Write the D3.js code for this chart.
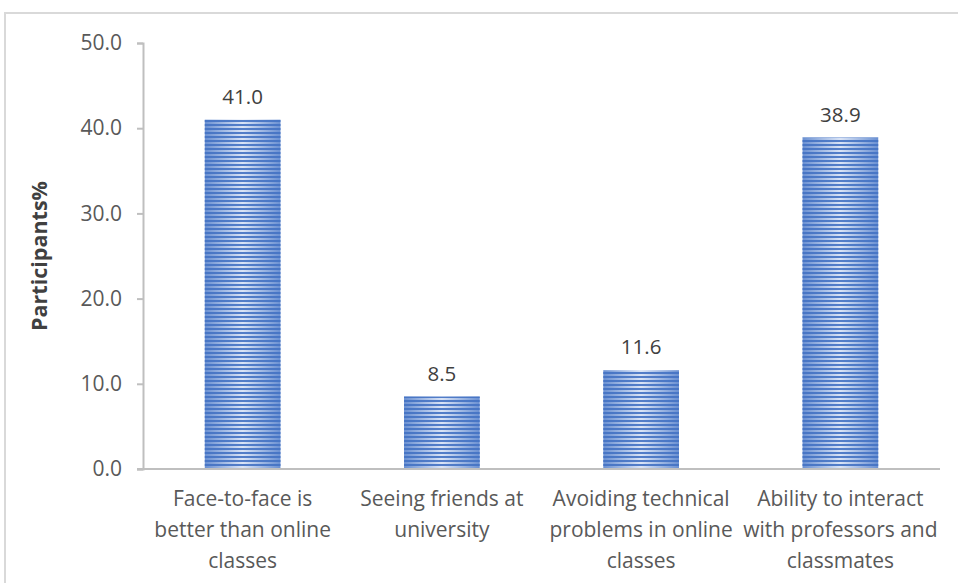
<!DOCTYPE html>
<html>
<head>
<meta charset="utf-8">
<script src="https://cdn.jsdelivr.net/npm/d3@7"></script>
<style>
  body { margin: 0; background: #fff; }
  svg { display: block; font-family: "Open Sans", "Liberation Sans", sans-serif; }
</style>
</head>
<body>
<svg id="svg"></svg>
<script>
const width = 958;
const height = 583;

const margin = { top: 43, right: 18, bottom: 114, left: 143 };

// data
const categories = [
    "Face-to-face is better than online classes",
    "Seeing friends at university",
    "Avoiding technical problems in online classes",
    "Ability to interact with professors and classmates"
];
const categoryLines = [
    ["Face-to-face is", "better than online", "classes"],
    ["Seeing friends at", "university"],
    ["Avoiding technical", "problems in online", "classes"],
    ["Ability to interact", "with professors and", "classmates"]
];
const values = [41.0, 8.5, 11.6, 38.9];
const yTicks = [0, 10, 20, 30, 40, 50];

let svg = d3.select("#svg")
    .attr("width", width)
    .attr("height", height)
    .attr("viewBox", [0, 0, width, height]);

// chart border (left and top visible)
svg.append("rect")
    .attr("x", 5)
    .attr("y", 13)
    .attr("width", width + 10)
    .attr("height", height + 10)
    .attr("fill", "none")
    .attr("stroke", "#d9d9d9")
    .attr("stroke-width", 2);

let defs = svg.append("defs");

// horizontal gradient: darker at edges, light in the middle
let grad = defs.append("linearGradient")
    .attr("id", "barGrad")
    .attr("x1", "0%").attr("x2", "100%")
    .attr("y1", "0%").attr("y2", "0%");
grad.append("stop").attr("offset", "0%").attr("stop-color", "#6a90d2");
grad.append("stop").attr("offset", "50%").attr("stop-color", "#dae4f6");
grad.append("stop").attr("offset", "100%").attr("stop-color", "#6a90d2");

// horizontal stripes
let pat = defs.append("pattern")
    .attr("id", "stripes")
    .attr("patternUnits", "userSpaceOnUse")
    .attr("width", 8)
    .attr("height", 4);
pat.append("rect")
    .attr("width", 8)
    .attr("height", 2)
    .attr("fill", "#4472c4")
    .attr("opacity", 0.9);

let xScale = d3.scaleBand()
    .domain(categories)
    .range([margin.left, width - margin.right])
    .paddingInner(0.62)
    .paddingOuter(0.31);

let yScale = d3.scaleLinear()
    .domain([0, 50])
    .range([height - margin.bottom, margin.top]);

// bars
let bars = svg.append("g")
    .selectAll(".bar")
    .data(values)
    .enter()
    .append("g")
        .attr("class", "bar");

bars.append("rect")
    .attr("x", (d, i) => xScale(categories[i]))
    .attr("y", d => yScale(d))
    .attr("width", xScale.bandwidth())
    .attr("height", d => yScale(0) - yScale(d))
    .attr("fill", "url(#barGrad)");

bars.append("rect")
    .attr("x", (d, i) => xScale(categories[i]))
    .attr("y", d => yScale(d))
    .attr("width", xScale.bandwidth())
    .attr("height", d => yScale(0) - yScale(d))
    .attr("fill", "url(#stripes)");

// value labels
svg.append("g")
    .selectAll(".value-label")
    .data(values)
    .enter()
    .append("text")
        .attr("class", "value-label")
        .attr("x", (d, i) => xScale(categories[i]) + xScale.bandwidth() / 2)
        .attr("y", d => yScale(d) - 16)
        .attr("text-anchor", "middle")
        .attr("font-size", "20.5px")
        .attr("fill", "#404040")
        .text(d => d.toFixed(1));

// y axis
let yAxis = svg.append("g")
    .attr("transform", `translate(${margin.left}, 0)`)
    .call(d3.axisLeft(yScale)
        .tickValues(yTicks)
        .tickFormat(d3.format(".1f"))
        .tickSize(6)
        .tickPadding(15));
yAxis.select(".domain").attr("stroke", "#bfbfbf").attr("stroke-width", 2);
yAxis.selectAll(".tick line").attr("stroke", "#bfbfbf").attr("stroke-width", 2);
yAxis.selectAll("text")
    .attr("font-size", "21px")
    .attr("fill", "#595959")
    .attr("font-family", "\"Open Sans\", \"Liberation Sans\", sans-serif");

// x axis line
svg.append("line")
    .attr("x1", margin.left - 6)
    .attr("x2", width - margin.right)
    .attr("y1", yScale(0))
    .attr("y2", yScale(0))
    .attr("stroke", "#bfbfbf")
    .attr("stroke-width", 2);

// category labels
let catLabels = svg.append("g")
    .selectAll(".cat-label")
    .data(categories)
    .enter()
    .append("text")
        .attr("class", "cat-label")
        .attr("x", d => xScale(d) + xScale.bandwidth() / 2)
        .attr("y", yScale(0) + 37)
        .attr("text-anchor", "middle")
        .attr("font-size", "21px")
        .attr("fill", "#595959");

catLabels.selectAll("tspan")
    .data((d, i) => categoryLines[i])
    .enter()
    .append("tspan")
        .attr("x", function () { return d3.select(this.parentNode).attr("x"); })
        .attr("dy", (d, i) => i === 0 ? 0 : 31)
        .text(d => d);

// y axis title
svg.append("text")
    .text("Participants%")
    .attr("transform", "rotate(-90)")
    .attr("x", -(yScale(25)))
    .attr("y", 47)
    .attr("text-anchor", "middle")
    .attr("font-size", "21.5px")
    .attr("font-weight", "bold")
    .attr("fill", "#404040");

svg.node();
</script>
</body>
</html>
